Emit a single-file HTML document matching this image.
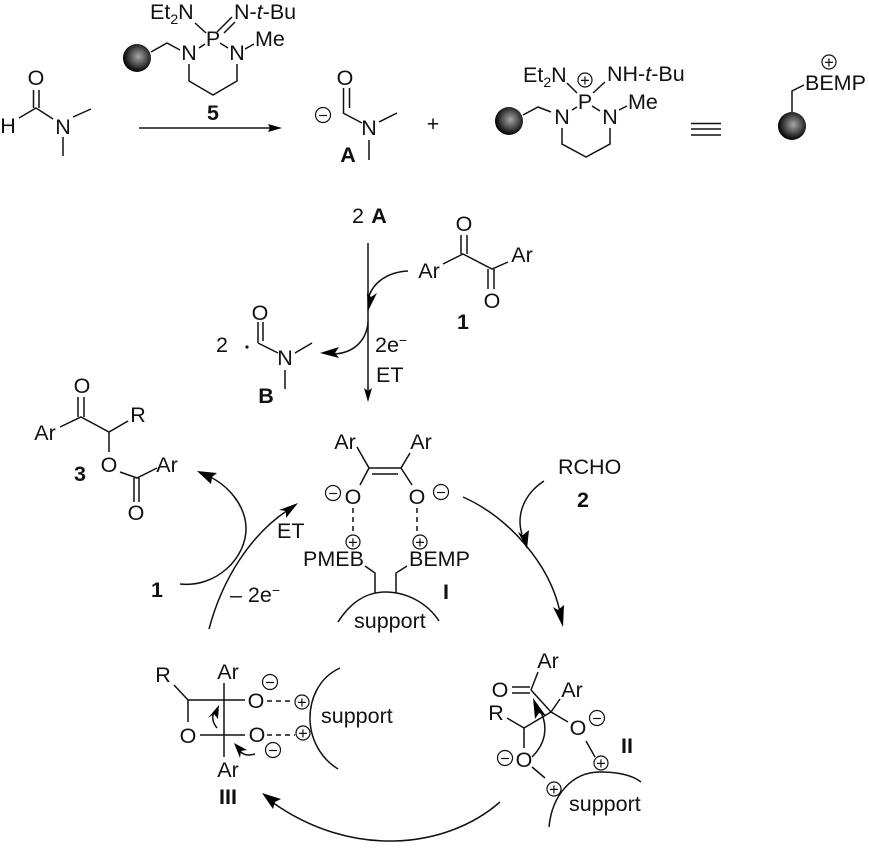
<!DOCTYPE html>
<html><head><meta charset="utf-8"><style>
html,body{margin:0;padding:0;background:#fff}
svg{display:block}
text{font-family:"Liberation Sans",sans-serif;font-size:21.5px;fill:#111}
.m{text-anchor:middle}
.b{font-weight:bold;text-anchor:middle}
.s{font-size:16.5px;text-anchor:middle}
.l{fill:none;stroke:#111;stroke-width:1.5}
.d{fill:none;stroke:#111;stroke-width:1.5;stroke-dasharray:5 4}
.c{fill:#fff;stroke:#111;stroke-width:1.2}
.h{fill:#000;stroke:none}
tspan.u{font-size:14px}
</style></head><body>
<svg width="869" height="848" viewBox="0 0 869 848" xmlns="http://www.w3.org/2000/svg">
<defs><radialGradient id="g" cx="0.55" cy="0.45" r="0.55"><stop offset="0" stop-color="#a8a8a8"/><stop offset="0.5" stop-color="#555"/><stop offset="1" stop-color="#000"/></radialGradient></defs>

<!-- formamide -->
<path class="l" d="M19 118L36 108L53 119M73 117L91 109M63 137V156M33.500 108V90M39 108V90"/>
<text class="m" x="8" y="133">H</text><text class="m" x="36" y="85">O</text><text class="m" x="63" y="134">N</text>

<!-- reagent 5 -->
<circle cx="137" cy="58" r="14" fill="url(#g)"/>
<path class="l" d="M151 52L167 43L180 50M199 48L205 44M220 43L228 48M245 49L254 44M195 23L206 33M217 32L232 17M224 33L235 22M189 64V81L213 95L237 81V64"/>
<text x="150" y="19">Et<tspan class="u" dy="5">2</tspan><tspan dy="-5">N</tspan></text>
<text x="234" y="19">N-<tspan font-style="italic">t</tspan>-Bu</text>
<text class="m" x="213" y="46">P</text><text class="m" x="189" y="60">N</text><text class="m" x="237" y="60">N</text>
<text x="255" y="46">Me</text><text class="b" x="213" y="120">5</text>
<path class="l" d="M139 128H270"/><path class="h" d="M282 128L268 124L270 128L268 132Z"/>

<!-- A -->
<path class="l" d="M343.500 113V88M349.500 108V88M343 113L362 123M379 122L397 113M369 140V160"/>
<text class="m" x="345" y="85">O</text><text class="m" x="369" y="135">N</text>
<circle class="c" cx="323" cy="115" r="7.500"/><text class="s" x="323" y="121">−</text>
<text class="b" x="348" y="162">A</text>
<text class="m" x="433" y="131">+</text>

<!-- cation -->
<circle cx="509" cy="121" r="14" fill="url(#g)"/>
<path class="l" d="M523 115L538 107L551 112M572 110L577 107M592 106L600 111M619 110L627 106M567 83L577 93M605 82L593 93M562 128V144L586 157L610 144V128"/>
<text x="523" y="82">Et<tspan class="u" dy="5">2</tspan><tspan dy="-5">N</tspan></text>
<text x="607" y="81">NH-<tspan font-style="italic">t</tspan>-Bu</text>
<circle class="c" cx="585" cy="80" r="7"/><text class="s" x="585" y="86">+</text>
<text class="m" x="585" y="109">P</text><text class="m" x="562" y="124">N</text><text class="m" x="610" y="124">N</text>
<text x="628" y="109">Me</text>
<path class="l" d="M691 123.500H721M691 129H721M691 135H721"/>

<!-- BEMP bead -->
<circle cx="792" cy="126" r="14" fill="url(#g)"/>
<path class="l" d="M804 85L792 91V112"/>
<text x="805" y="90">BEMP</text>
<circle class="c" cx="829" cy="62" r="7"/><text class="s" x="829" y="68">+</text>

<!-- electron transfer -->
<text class="m" x="358" y="223">2</text><text class="b" x="379" y="223">A</text>
<path class="l" d="M368 243V395"/><path class="h" d="M368 402L364 388L368 391L372 388Z"/>
<path class="l" d="M443 264L463 254L492 269L508 262M461 254V235M467 254V235M488 269V289M494 269V289"/>
<text class="m" x="429" y="278">Ar</text><text class="m" x="464" y="231">O</text><text class="m" x="492" y="308">O</text><text class="m" x="522" y="262">Ar</text>
<text class="b" x="463" y="329">1</text>
<path class="l" d="M408 271C388 272 374 282 369 296"/><path class="h" d="M368 311L367 293L371 297L377 293Z"/>
<path class="l" d="M368 323C366 342 352 354 332 354"/><path class="h" d="M320 353L339 347L335 353L339 358Z"/>

<!-- B -->
<text class="m" x="222" y="352">2</text><circle cx="247" cy="347" r="1.600" fill="#111"/>
<path class="l" d="M258 343V322M263 341V322M258 343L278 353M295 353L312 343M285 370V389"/>
<text class="m" x="260" y="320">O</text><text class="m" x="285" y="365">N</text>
<text class="b" x="266" y="403">B</text>
<text x="375" y="352">2e<tspan class="u" dy="-7">−</tspan></text><text x="376" y="382">ET</text>

<!-- product 3 -->
<path class="l" d="M78 417V397M84 417V397M60 427L81 417L109 432L128 421M109 432V452M120 472L137 478L157 468M134 478V502M139 478V502"/>
<text class="m" x="82" y="393">O</text><text class="m" x="45" y="440">Ar</text><text class="m" x="138" y="422">R</text><text class="m" x="109" y="472">O</text><text class="m" x="167" y="472">Ar</text><text class="m" x="136" y="520">O</text>
<text class="b" x="80" y="481">3</text>
<path class="l" d="M180 584C216 588 247 558 246 527C245 505 228 485 208 476"/><path class="h" d="M197 471L217 473L212 477L211 484Z"/>
<path class="l" d="M209 629C222 580 250 535 288 510"/><path class="h" d="M298 503L286 518L286 511L279 510Z"/>
<text class="b" x="157" y="597">1</text>
<text x="277" y="538">ET</text><text x="230" y="602">– 2e<tspan class="u" dy="-7">−</tspan></text>

<!-- I -->
<path class="l" d="M357 447L369 468H401L410 453M372 474H398M369 468L360 485M401 468L412 485"/>
<text class="m" x="345" y="449">Ar</text><text class="m" x="421" y="449">Ar</text>
<text class="m" x="353" y="504">O</text><text class="m" x="417" y="504">O</text>
<circle class="c" cx="333" cy="493" r="7.500"/><text class="s" x="333" y="499">−</text>
<circle class="c" cx="441" cy="492" r="7.500"/><text class="s" x="441" y="498">−</text>
<path class="d" d="M353 508V532M417 508V532"/>
<circle class="c" cx="353" cy="542" r="7"/><text class="s" x="353" y="548">+</text>
<circle class="c" cx="420" cy="542" r="7"/><text class="s" x="420" y="548">+</text>
<text x="303" y="566">PMEB</text><text x="409" y="566">BEMP</text>
<path class="l" d="M365 566L375 573V593M407 566L396 573V593M338 622C350 603 366 592 385 592C408 592 428 604 439 621"/>
<text x="354" y="628">support</text><text class="b" x="446" y="599">I</text>

<!-- RCHO -->
<text x="558" y="474">RCHO</text><text class="b" x="583" y="507">2</text>
<path class="l" d="M463 497C510 518 550 565 560 612"/><path class="h" d="M563 627L553 607L558 610L564 605Z"/>
<path class="l" d="M544 481C524 494 516 515 522 534"/><path class="h" d="M527 549L518 532L523 535L529 530Z"/>

<!-- III -->
<path class="l" d="M174 685L188 700H245M188 700V722M200 735H245M224 683V757"/>
<text class="m" x="163" y="682">R</text><text class="m" x="228" y="679">Ar</text><text class="m" x="228" y="777">Ar</text>
<text class="m" x="188" y="743">O</text><text class="m" x="256" y="708">O</text><text class="m" x="257" y="742">O</text>
<circle class="c" cx="270" cy="682" r="7.500"/><text class="s" x="270" y="688">−</text>
<circle class="c" cx="273" cy="750" r="7.500"/><text class="s" x="273" y="756">−</text>
<path class="d" d="M267 701H294M267 735H295"/>
<circle class="c" cx="302" cy="702" r="7"/><text class="s" x="302" y="708">+</text>
<circle class="c" cx="303" cy="733" r="7"/><text class="s" x="303" y="739">+</text>
<path class="l" d="M340 668C318 678 310 700 310 718C310 738 320 758 338 769"/>
<text x="321" y="723">support</text><text class="b" x="228" y="804">III</text>
<path class="l" d="M217 728C212 722 212 716 214 712"/><path class="h" d="M219 705L218 719L214 714L208 718Z"/>
<path class="l" d="M255 754C248 756 243 755 240 751"/><path class="h" d="M234 743L247 750L241 751L240 758Z"/>
<path class="l" d="M500 802C445 850 350 858 272 802"/><path class="h" d="M262 793L281 799L275 802L273 809Z"/>

<!-- II -->
<path class="l" d="M538 672L531 690M512 687H530M512 693H530M531 690L551 712M551 712L560 699M524 728L551 712L568 722M507 718L524 728V748M586 741L595 757M532 767L545 778M549 827C552 795 572 772 600 772C618 772 632 775 641 782"/>
<text class="m" x="548" y="668">Ar</text><text class="m" x="500" y="697">O</text><text class="m" x="572" y="697">Ar</text><text class="m" x="496" y="720">R</text>
<text class="m" x="578" y="735">O</text><text class="m" x="524" y="767">O</text>
<circle class="c" cx="597" cy="718" r="7.500"/><text class="s" x="597" y="724">−</text>
<circle class="c" cx="505" cy="758" r="7.500"/><text class="s" x="505" y="764">−</text>
<circle class="c" cx="601" cy="763" r="7"/><text class="s" x="601" y="769">+</text>
<circle class="c" cx="554" cy="789" r="7"/><text class="s" x="554" y="795">+</text>
<path class="l" d="M532 757C546 743 548 727 541 712"/><path class="h" d="M533 698L546 716L539 713L535 719Z"/>
<text x="569" y="811">support</text><text class="b" x="627" y="753">II</text>
</svg>
</body></html>
